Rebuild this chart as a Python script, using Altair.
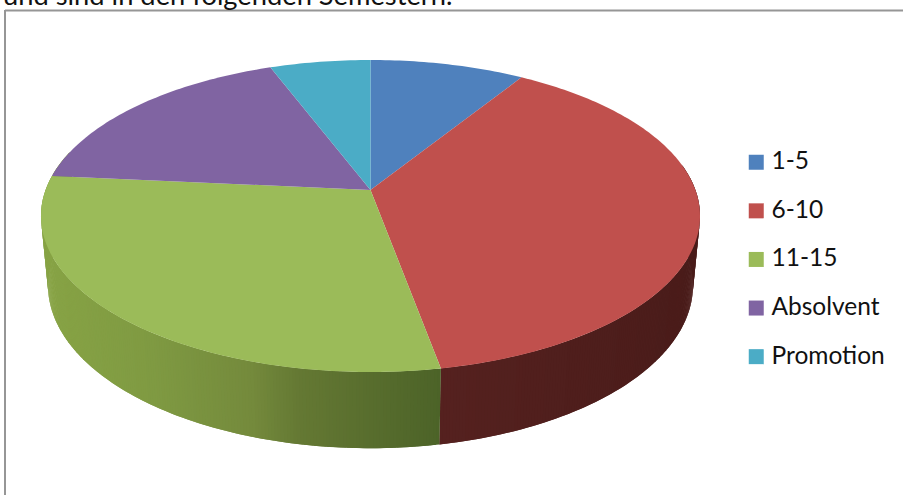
import math
import altair as alt

categories = ["1-5", "6-10", "11-15", "Absolvent", "Promotion"]
values = [8.9, 38.2, 29.4, 17.7, 5.8]
colors = ["#4f81bd", "#c0504d", "#9bbb59", "#8064a2", "#4bacc6"]
caption = "und sind in den folgenden Semestern."

# wall shading, by horizontal offset from the pie's centre
shade_stops = [-325, -220, -120, -70, 71, 71.01, 325]
shade_colors = ["#87a345", "#7f9a42", "#748a3c", "#647833", "#4c6328", "#55211f", "#4a1c1a"]

K = 1 / 6
TOP = dict(a=324.9, b=151.7, dy=0.0)
BOTTOM = dict(a=318.0, b=158.5, dy=-68.0)


def rim(theta_deg, p):
    t = math.radians(theta_deg)
    u, v = math.sin(t), math.cos(t)
    w = 1 + K * v
    return [p["a"] * u / w, p["b"] * v / w + p["dy"]]


def poly(points):
    return {"type": "Polygon", "coordinates": [points + [points[0]]]}


total = sum(values)
edges = [0.0]
for val in values:
    edges.append(edges[-1] + val / total * 360)

top_features = []
wall_features = []
for i, cat in enumerate(categories):
    start, end = edges[i], edges[i + 1]
    n = max(2, int(end - start))
    pts = [[0.0, 0.0]] + [rim(start + (end - start) * j / n, TOP) for j in range(n + 1)]
    top_features.append({"type": "Feature", "geometry": poly(pts), "properties": {"label": cat}})
    lo, hi = max(start, 80.0), min(end, 285.0)
    if hi > lo:
        m = int((hi - lo) * 2)
        step = (hi - lo) / m
        for j in range(m):
            a0 = lo + step * j
            a1 = min(a0 + step * 2, hi)  # overlap the next strip, so that no seams show
            mid = rim(a0 + step / 2, TOP)
            q = [rim(a0, TOP), rim(a1, TOP), rim(a1, BOTTOM), rim(a0, BOTTOM)]
            wall_features.append({"type": "Feature", "geometry": poly(q), "properties": {"shade": mid[0]}})

projection = dict(type="identity", scale=1, translate=[370.5, 190], reflectY=True)
shade_scale = alt.Scale(domain=shade_stops, range=shade_colors, clamp=True, interpolate="rgb")

walls = (
    alt.Chart(alt.Data(values=wall_features))
    .mark_geoshape(strokeWidth=0)
    .encode(color=alt.Color("properties.shade:Q", scale=shade_scale, legend=None))
    .project(**projection)
)

tops = (
    alt.Chart(alt.Data(values=top_features))
    .mark_geoshape(strokeWidth=0)
    .encode(
        color=alt.Color(
            "properties.label:N",
            scale=alt.Scale(domain=categories, range=colors),
            legend=alt.Legend(
                title=None,
                orient="none",
                legendX=744,
                legendY=150,
                symbolType="square",
                symbolSize=225,
                symbolStrokeWidth=0,
                symbolOpacity=1,
                labelFont="Lato",
                labelFontSize=24.5,
                labelColor="#111111",
                labelOffset=3,
                rowPadding=23.6,
                padding=0,
            ),
        )
    )
    .project(**projection)
)

frame_color = "#969696"
frame_top = alt.Chart(alt.Data(values=[{"k": 0}])).mark_rule(color=frame_color, strokeWidth=2).encode(
    x=alt.value(5), x2=alt.value(903), y=alt.value(10.5)
)
frame_left = alt.Chart(alt.Data(values=[{"k": 0}])).mark_rule(color=frame_color, strokeWidth=2).encode(
    x=alt.value(5), y=alt.value(10), y2=alt.value(495)
)
title_text = alt.Chart(alt.Data(values=[{"t": caption}])).mark_text(
    font="Lato", fontSize=27.3, align="left", baseline="alphabetic", color="#111111"
).encode(x=alt.value(3), y=alt.value(4.5), text="t:N")

chart = (
    alt.layer(walls, tops, frame_top, frame_left, title_text)
    .resolve_scale(color="independent")
    .properties(width=903, height=495, padding=0, background="white", autosize=alt.AutoSizeParams(type="none"))
    .configure_view(stroke=None)
)

chart.save("out.html", embed_options={"renderer": "svg", "actions": False, "defaultStyle": "body{margin:0;overflow:hidden}"})
